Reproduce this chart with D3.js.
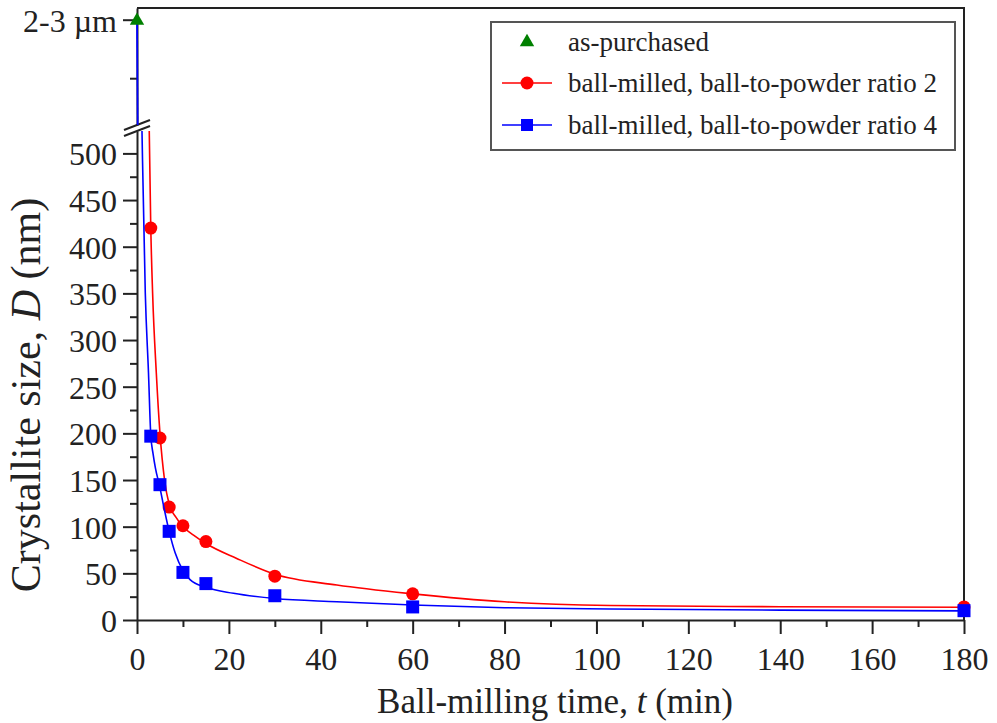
<!DOCTYPE html>
<html>
<head>
<meta charset="utf-8">
<script src="https://cdn.jsdelivr.net/npm/d3@7"></script>
<style>
  body { margin: 0; background: #fff; }
  svg { display: block; font-family: "Liberation Serif", "Times New Roman", serif; }
</style>
</head>
<body>
<script>
// data
var millTime = [3, 5, 7, 10, 15, 30, 60, 180];
var sizeRatio2 = [420, 195, 121, 101, 84, 47, 28, 14];
var sizeRatio4 = [197, 145, 95, 51, 39, 26, 14, 10];
var purchasedTime = [0];
var purchasedSize = [2500];   // 2-3 um, shown on the broken upper axis

// fitted curves, points
var fit2Time = [2.6, 3.0, 3.4, 4.2, 5.0, 6.0, 7.0, 8.5, 10, 12.3, 15, 21.7, 30, 43.5, 60, 80, 103, 140, 180];
var fit2Size = [545, 420, 350, 265, 200, 150, 124, 110, 100, 91, 82, 66, 49, 37.5, 28, 19.5, 15.5, 14.2, 13.6];
var fit4Time = [0.95, 1.1, 1.8, 2.5, 3.0, 3.5, 4.0, 4.9, 5.8, 7.0, 8.3, 10, 11.6, 15, 21, 30, 43.5, 60, 80, 103, 140, 180];
var fit4Size = [560, 520, 351, 265, 198, 178, 163, 144, 122, 95, 72, 53, 43, 35, 28.6, 23, 19.6, 16, 13.2, 11.8, 10.6, 9.8];
var fit4UpTime = [0, 0.15];
var fit4UpSize = [2500, 700];

var xTicks = [0, 20, 40, 60, 80, 100, 120, 140, 160, 180];
var yTicks = [0, 50, 100, 150, 200, 250, 300, 350, 400, 450, 500];
var upperTicks = [2500];
var upperTickLabels = ["2-3 \u00b5m"];

var legendLabels = ["as-purchased", "ball-milled, ball-to-powder ratio 2", "ball-milled, ball-to-powder ratio 4"];

// set up svg
var W = 997, H = 723;
var pLeft = 137, pRight = 964, pTop = 8, pBottom = 620;
var breakLow = 131, breakHigh = 125;

var svg = d3.select("body")
            .append("svg")
            .attr("width", W)
            .attr("height", H);

var x = d3.scaleLinear().domain([0, 180]).range([pLeft, pRight]);
var yLow = d3.scaleLinear().domain([0, 524]).range([pBottom, breakLow]);
var yHigh = d3.scaleLinear().domain([700, 2700]).range([breakHigh, pTop]);

var defs = svg.append("defs");
defs.append("clipPath").attr("id", "clipLow")
    .append("rect").attr("x", pLeft).attr("y", breakLow).attr("width", pRight - pLeft).attr("height", pBottom - breakLow);
defs.append("clipPath").attr("id", "clipHigh")
    .append("rect").attr("x", pLeft - 2).attr("y", pTop).attr("width", pRight - pLeft + 2).attr("height", breakHigh - pTop);

var axisColor = "#222";

// frame (top and right)
svg.append("path")
    .attr("d", "M" + pLeft + "," + pTop + "H" + pRight + "V" + pBottom)
    .attr("fill", "none")
    .attr("stroke", axisColor)
    .attr("stroke-width", 2);

function styleAxis(g) {
  g.selectAll("path.domain").attr("stroke", axisColor).attr("stroke-width", 2);
  g.selectAll(".tick line").attr("stroke", axisColor).attr("stroke-width", 2);
  g.selectAll(".tick text").attr("fill", "#222").attr("font-family", "Liberation Serif, Times New Roman, serif");
}

// x axis
var gx = svg.append("g")
    .attr("transform", "translate(0," + pBottom + ")")
    .call(d3.axisBottom(x).tickValues(xTicks).tickSize(14).tickSizeOuter(0).tickPadding(13));
gx.selectAll(".tick text").attr("font-size", 32);
styleAxis(gx);
var gxm = svg.append("g")
    .attr("transform", "translate(0," + pBottom + ")")
    .call(d3.axisBottom(x).tickValues(d3.range(10, 180, 20)).tickSize(7).tickFormat(""));
gxm.select("path.domain").remove();
styleAxis(gxm);

// y axis, lower part
var gy = svg.append("g")
    .attr("transform", "translate(" + pLeft + ",0)")
    .call(d3.axisLeft(yLow).tickValues(yTicks).tickSize(14).tickSizeOuter(0).tickPadding(6));
gy.selectAll(".tick text").attr("font-size", 32).attr("dy", "0.36em");
styleAxis(gy);
var gym = svg.append("g")
    .attr("transform", "translate(" + pLeft + ",0)")
    .call(d3.axisLeft(yLow).tickValues(d3.range(25, 524, 50)).tickSize(7).tickFormat(""));
gym.select("path.domain").remove();
styleAxis(gym);

// y axis, upper part
var gyh = svg.append("g")
    .attr("transform", "translate(" + pLeft + ",0)")
    .call(d3.axisLeft(yHigh).tickValues(upperTicks).tickSize(14).tickSizeOuter(0).tickPadding(6)
          .tickFormat(function(d, i) { return upperTickLabels[i]; }));
gyh.selectAll(".tick text").attr("font-size", 32).attr("dy", "0.36em");
styleAxis(gyh);
var gyhm = svg.append("g")
    .attr("transform", "translate(" + pLeft + ",0)")
    .call(d3.axisLeft(yHigh).tickValues([1500]).tickSize(7).tickFormat(""));
gyhm.select("path.domain").remove();
styleAxis(gyhm);

// break marks
[0, 6].forEach(function(off) {
  svg.append("line")
      .attr("x1", pLeft - 13).attr("y1", breakHigh + 5 + off)
      .attr("x2", pLeft + 13).attr("y2", breakHigh - 5 + off)
      .attr("stroke", axisColor)
      .attr("stroke-width", 2);
});

// axis titles
svg.append("text")
    .attr("x", 555)
    .attr("y", 713)
    .attr("text-anchor", "middle")
    .attr("font-size", 35)
    .attr("fill", "#222")
    .html("Ball-milling time, <tspan font-style='italic'>t</tspan> (min)");

svg.append("text")
    .attr("transform", "translate(40,395) rotate(-90)")
    .attr("text-anchor", "middle")
    .attr("font-size", 42)
    .attr("fill", "#222")
    .html("Crystallite size, <tspan font-style='italic'>D</tspan> (nm)");

// fitted lines
var lineLow = d3.line()
    .x(function(d) { return x(d[0]); })
    .y(function(d) { return yLow(d[1]); })
    .curve(d3.curveMonotoneX);
var lineHigh = d3.line()
    .x(function(d) { return x(d[0]); })
    .y(function(d) { return yHigh(d[1]); });

var fit2 = d3.zip(fit2Time, fit2Size);
var fit4 = d3.zip(fit4Time, fit4Size);
var fit4Up = d3.zip(fit4UpTime, fit4UpSize);

var red = "#ff0000", blue = "#0000ff", green = "#008000";

svg.append("path")
    .attr("clip-path", "url(#clipLow)")
    .attr("d", lineLow(fit2))
    .attr("fill", "none")
    .attr("stroke", red)
    .attr("stroke-width", 1.6);

svg.selectAll("circle.r2")
    .data(d3.zip(millTime, sizeRatio2))
    .enter()
    .append("circle")
    .attr("class", "r2")
    .attr("cx", function(d) { return x(d[0]); })
    .attr("cy", function(d) { return yLow(d[1]); })
    .attr("r", 6.5)
    .attr("fill", red);

svg.append("path")
    .attr("clip-path", "url(#clipLow)")
    .attr("d", lineLow(fit4))
    .attr("fill", "none")
    .attr("stroke", blue)
    .attr("stroke-width", 1.6);

svg.append("path")
    .attr("clip-path", "url(#clipHigh)")
    .attr("d", lineHigh(fit4Up))
    .attr("fill", "none")
    .attr("stroke", blue)
    .attr("stroke-width", 1.8);

svg.selectAll("rect.r4")
    .data(d3.zip(millTime, sizeRatio4))
    .enter()
    .append("rect")
    .attr("class", "r4")
    .attr("x", function(d) { return x(d[0]) - 6.5; })
    .attr("y", function(d) { return yLow(d[1]) - 6.5; })
    .attr("width", 13)
    .attr("height", 13)
    .attr("fill", blue);

var tri = d3.symbol().type(d3.symbolTriangle).size(90);
svg.selectAll("path.ap")
    .data(d3.zip(purchasedTime, purchasedSize))
    .enter()
    .append("path")
    .attr("class", "ap")
    .attr("transform", function(d) { return "translate(" + x(d[0]) + "," + (yHigh(d[1]) + 1) + ")"; })
    .attr("d", tri)
    .attr("fill", green);

// legend
var lg = svg.append("g").attr("transform", "translate(491,22)");
lg.append("rect")
    .attr("width", 464)
    .attr("height", 128)
    .attr("fill", "#fff")
    .attr("stroke", "#555")
    .attr("stroke-width", 2);

var rowY = [20, 61, 103];
legendLabels.forEach(function(lab, i) {
  var row = lg.append("g").attr("transform", "translate(0," + rowY[i] + ")");
  if (i === 0) {
    row.append("path").attr("transform", "translate(36,0)").attr("d", tri).attr("fill", green);
  } else {
    var c = i === 1 ? red : blue;
    row.append("line").attr("x1", 11).attr("x2", 61).attr("stroke", c).attr("stroke-width", 1.6);
    if (i === 1) row.append("circle").attr("cx", 36).attr("r", 6.5).attr("fill", c);
    else row.append("rect").attr("x", 30).attr("y", -6).attr("width", 12).attr("height", 12).attr("fill", c);
  }
  row.append("text")
      .attr("x", 77)
      .attr("dy", "0.33em")
      .attr("font-size", 27)
      .attr("fill", "#222")
      .text(lab);
});
</script>
</body>
</html>
